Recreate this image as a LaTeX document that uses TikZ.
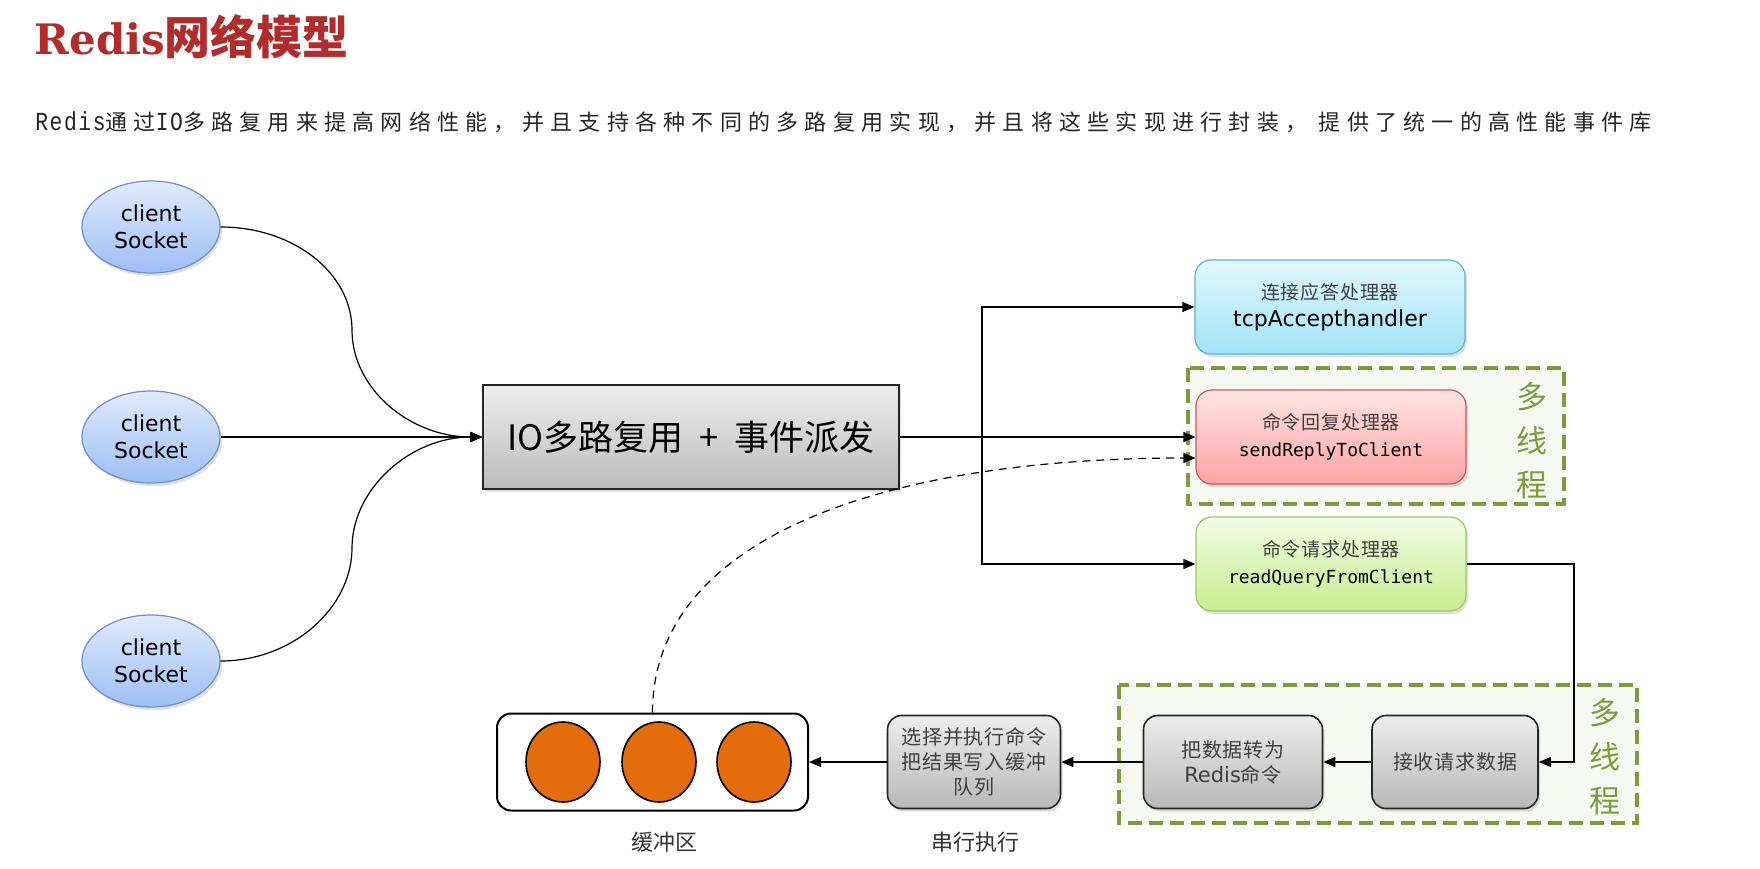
\documentclass[tikz,border=0pt]{standalone}
\usepackage{fontspec}
\setmainfont{Noto Sans CJK SC}
\newfontfamily\cjk{Noto Sans CJK SC}
\newfontfamily\dejavu{DejaVu Sans}
\newfontfamily\dvmono{DejaVu Sans Mono}
\newfontfamily\dvserif{DejaVu Serif}
\newfontfamily\limono[FakeStretch=0.82,LetterSpace=6]{Liberation Mono}
\newfontfamily\subfont[LetterSpace=28.5]{Noto Sans CJK SC}
\newfontfamily\boxcjk[LetterSpace=4]{Noto Sans CJK SC}
\usetikzlibrary{shapes.geometric,arrows.meta,shadows,shadings}
\definecolor{titlered}{HTML}{B32C2C}
\definecolor{clT}{HTML}{E0EBFC}
\definecolor{clB}{HTML}{9DBEF6}
\definecolor{clD}{HTML}{6D8FC7}
\definecolor{tcpT}{HTML}{E2F8FE}
\definecolor{tcpB}{HTML}{A0E4F8}
\definecolor{tcpD}{HTML}{5AB4D0}
\definecolor{srT}{HTML}{FFE4E4}
\definecolor{srB}{HTML}{FFA3A3}
\definecolor{srD}{HTML}{C9585A}
\definecolor{rqT}{HTML}{F2FCE4}
\definecolor{rqB}{HTML}{C6EE8E}
\definecolor{rqD}{HTML}{9CC864}
\definecolor{grT}{HTML}{EDEDED}
\definecolor{grB}{HTML}{B8B8B8}
\definecolor{grpgreen}{HTML}{7F9C3C}
\definecolor{grpfill}{HTML}{F6F9F1}
\definecolor{ballorange}{HTML}{E46C0A}
\tikzset{
  shad/.style={drop shadow={shadow xshift=1pt, shadow yshift=-1.5pt, opacity=0.25}},
  client/.style={ellipse, draw=clD, line width=0.6pt, top color=clT, bottom color=clB,
    minimum width=69pt, minimum height=46pt, inner sep=0pt, align=center,
    font=\dejavu\fontsize{11pt}{13.5pt}\selectfont, shad},
  mainbox/.style={rectangle, draw=black!85, line width=0.8pt, top color=grT, bottom color=grB!95,
    minimum width=208pt, minimum height=52pt, inner sep=0pt,
    font=\cjk\fontsize{17.5pt}{20pt}\selectfont, shad},
  handler/.style={rectangle, rounded corners=8pt, line width=0.6pt, minimum width=135pt,
    minimum height=47pt, inner sep=0pt, align=center, font=\fontsize{9.5pt}{13.5pt}\selectfont, shad},
  graybox/.style={rectangle, rounded corners=7pt, draw=black!85, top color=grT, bottom color=grB,
    line width=0.8pt, align=center, inner sep=0pt, minimum height=46.5pt,
    font=\boxcjk\fontsize{10pt}{12.5pt}\selectfont, text=black!75, shad},
  arr/.style={-{Triangle[length=6pt,width=5pt]}, line width=0.6pt},
  grp/.style={draw=grpgreen, line width=1.7pt, dash pattern=on 7pt off 3.5pt, fill=grpfill},
  mt/.style={text=grpgreen, font=\cjk\fontsize{15.5pt}{22pt}\selectfont, align=center, inner sep=0pt},
  ball/.style={ellipse, draw=black, line width=0.8pt, fill=ballorange, minimum width=37pt,
    minimum height=40pt, inner sep=0pt},
  lbl/.style={font=\cjk\fontsize{11pt}{13pt}\selectfont, text=black!80, inner sep=0pt},
}
\begin{document}
\begin{tikzpicture}[x=0.5pt,y=-0.5pt]
\useasboundingbox (0,0) rectangle (1760,868);
\fill[white] (0,0) rectangle (1760,868);

% title and subtitle
\node[anchor=west, text=titlered, inner sep=0pt] (title) at (34,37)
  {\dvserif\bfseries\fontsize{21pt}{25pt}\selectfont Redis\cjk\bfseries\fontsize{23pt}{25pt}\selectfont 网络模型};
\node[anchor=west, inner sep=0pt, text=black!85] (sub) at (35,122)
  {\fontsize{11pt}{13pt}\selectfont{\limono\fontsize{13pt}{13pt}\selectfont Redis}{\subfont 通过}{\limono\fontsize{13pt}{13pt}\selectfont IO}{\subfont 多路复用来提高网络性能，并且支持各种不同的多路复用实现，并且将这些实现进行封装， 提供了统一的高性能事件库}};

% multithread groups
\draw[grp] (1188,368) rectangle (1564,504);
\draw[grp] (1119,685) rectangle (1637,823);
\node[mt] (mt1) at (1532,441) {多\\线\\程};
\node[mt] (mt2) at (1605,757) {多\\线\\程};

% clients
\node[client] (c1) at (151,227) {client\\Socket};
\node[client] (c2) at (151,437) {client\\Socket};
\node[client] (c3) at (151,661) {client\\Socket};

% main box
\node[mainbox] (io) at (691,437) {IO多路复用\hspace{0.45em}+\hspace{0.45em}事件派发};

% handlers
\node[handler, draw=tcpD, top color=tcpT, bottom color=tcpB] (tcp) at (1330,307)
  {{\boxcjk\color{black!75}连接应答处理器}\\{\dejavu\fontsize{11pt}{13pt}\selectfont tcpAccepthandler}};
\node[handler, draw=srD, top color=srT, bottom color=srB] (sr) at (1331,437)
  {{\boxcjk\color{black!75}命令回复处理器}\\{\dvmono\fontsize{9pt}{13pt}\selectfont sendReplyToClient}};
\node[handler, draw=rqD, top color=rqT, bottom color=rqB] (rq) at (1331,564)
  {{\boxcjk\color{black!75}命令请求处理器}\\{\dvmono\fontsize{9pt}{13pt}\selectfont readQueryFromClient}};

% bottom row
\node[graybox, minimum width=83pt] (recv) at (1455,762) {接收请求数据};
\node[graybox, minimum width=89.5pt] (conv) at (1233,762)
  {把数据转为\\{\dejavu\fontsize{10.5pt}{12.5pt}\selectfont Redis}命令};
\node[graybox, minimum width=86.5pt] (exec) at (974,762)
  {选择并执行命令\\把结果写入缓冲\\队列};
\node[rectangle, draw=black, line width=1pt, rounded corners=7pt, fill=white,
  minimum width=155.5pt, minimum height=48.5pt] (buf) at (652.5,762) {};
\node[ball] (b1) at (563,762) {};
\node[ball] (b2) at (659,762) {};
\node[ball] (b3) at (754,762) {};
\node[lbl] (lbuf) at (664,842) {缓冲区};
\node[lbl] (lser) at (975,842) {串行执行};

% client connectors
\coordinate (m1) at (352,330);
\coordinate (m3) at (352,548);
\draw[arr] (c1.east) .. controls +(73,0) and +(0,-57) .. (m1)
  .. controls +(0,59) and +(-72,0) .. (io.west);
\draw[arr] (c2.east) -- (io.west);
\draw[arr] (c3.east) .. controls +(73,0) and +(0,59) .. (m3)
  .. controls +(0,-59) and +(-72,0) .. (io.west);

% dispatch
\coordinate (bus) at (982,437);
\draw[arr] (io.east) -- (sr.west);
\draw[arr] (bus) |- (tcp.west);
\draw[arr] (bus) |- (rq.west);
\draw[arr, dash pattern=on 4pt off 3pt] (buf.north) .. controls +(0,-173) and +(-316,0) .. ([yshift=-10.5pt]sr.west);

% request flow
\coordinate (turn) at (1574,564);
\draw[arr] (rq.east) -- (turn) |- (recv.east);
\draw[arr] (recv.west) -- (conv.east);
\draw[arr] (conv.west) -- (exec.east);
\draw[arr] (exec.west) -- (buf.east);
\end{tikzpicture}
\end{document}
